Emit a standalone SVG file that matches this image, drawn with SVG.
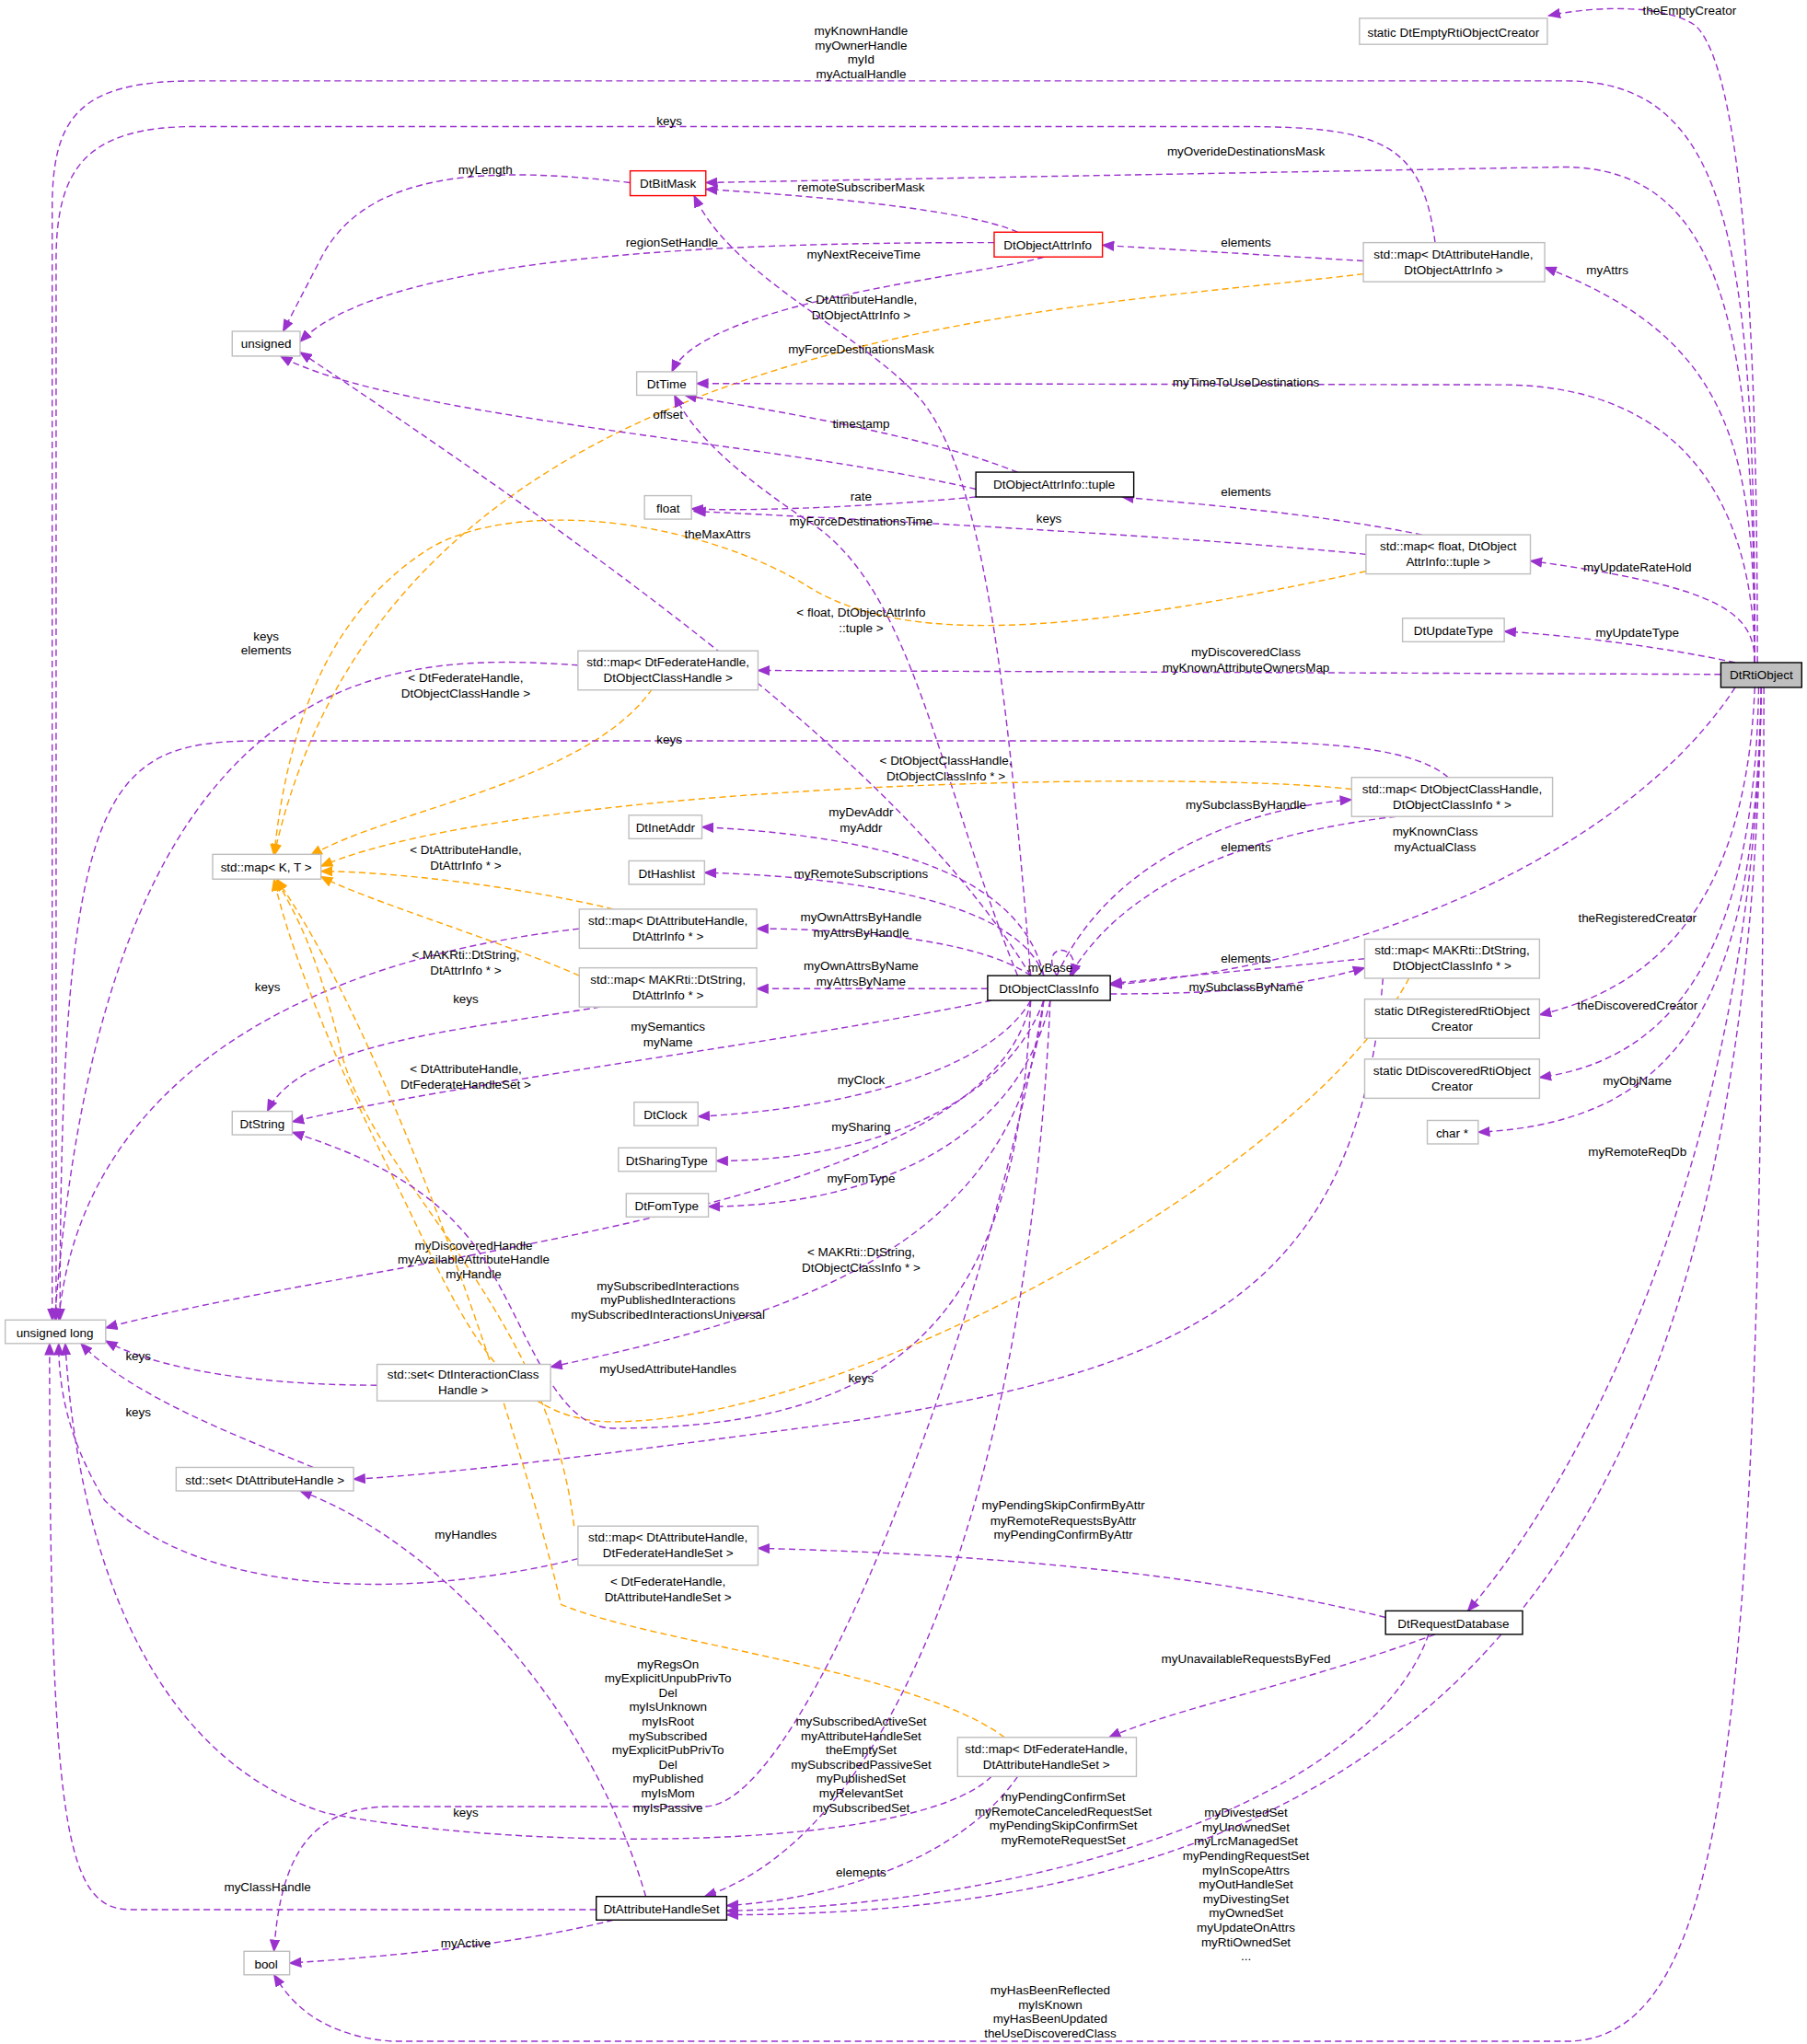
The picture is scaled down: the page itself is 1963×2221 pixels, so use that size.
<svg xmlns="http://www.w3.org/2000/svg" width="1963" height="2221" viewBox="0 0 1963 2221">
<style>
text{font-family:"Liberation Sans",Arial,sans-serif;font-size:9.5px;fill:#000}
.n text{text-anchor:middle}
.n rect{fill:#fff;stroke:#bfbfbf;stroke-width:1}
.n.b rect{stroke:#000}
.n.r rect{stroke:#ff0000}
.n.g rect{fill:#bfbfbf;stroke:#000}
.e path{fill:none;stroke:#9a32cd;stroke-width:1;stroke-dasharray:5,3;marker-end:url(#ap)}
.e path.o{stroke:#ffa500;marker-end:url(#ao)}
.e text{text-anchor:middle}
</style>
<defs>
<marker id="ap" markerWidth="10" markerHeight="8" refX="9" refY="4" orient="auto" markerUnits="userSpaceOnUse"><path d="M0,0 L10,4 L0,8 z" fill="#9a32cd"/></marker>
<marker id="ao" markerWidth="10" markerHeight="8" refX="9" refY="4" orient="auto" markerUnits="userSpaceOnUse"><path d="M0,0 L10,4 L0,8 z" fill="#ffa500"/></marker>
</defs>
<rect width="1963" height="2221" fill="#fff"/>
<g transform="scale(1.4173)">
<g id="edges" class="e">
<path d="M1347,508 C1347,300 1340,60 1300,20 C1280,5 1230,3 1187,12"/><text x="1295" y="11">theEmptyCreator</text>
<path d="M1345,508 C1345,200 1330,62 1200,62 L150,62 C60,62 40,90 40,160 L40,1012"/><text x="660" y="27">myKnownHandle</text><text x="660" y="38">myOwnerHandle</text><text x="660" y="49">myId</text><text x="660" y="60">myActualHandle</text>
<path d="M1100,186 C1090,110 1060,97 950,97 L150,97 C65,97 43,130 43,200 L43,1012"/><text x="513" y="96">keys</text>
<path d="M1345,508 C1345,250 1320,130 1200,128 L541,140"/><text x="955" y="119">myOverideDestinationsMask</text>
<path d="M483,140 C380,128 280,128 245,200 L217,254"/><text x="372" y="133">myLength</text>
<path d="M780,178 C740,160 620,150 541,145"/><text x="660" y="147">remoteSubscriberMask</text>
<path d="M762,186 C600,186 300,190 230,262"/><text x="515" y="189">regionSetHandle</text>
<path d="M800,197 C760,210 540,230 515,285"/><text x="662" y="198">myNextReceiveTime</text>
<path d="M1045,200 L845,188"/><text x="955" y="189">elements</text>
<path d="M1345,508 C1345,350 1330,260 1184,205"/><text x="1232" y="210">myAttrs</text>
<path class="o" d="M1045,210 C800,240 300,250 210,656"/><text x="660" y="233">&lt; DtAttributeHandle,</text><text x="660" y="245">DtObjectAttrInfo &gt;</text>
<path d="M790,748 C770,500 750,350 700,300 C650,250 560,210 532,150"/><text x="660" y="271">myForceDestinationsMask</text>
<path d="M1345,508 C1345,400 1300,295 1150,295 L534,294"/><text x="955" y="296">myTimeToUseDestinations</text>
<path d="M748,375 C600,340 300,320 215,273"/><text x="512" y="321">offset</text>
<path d="M780,362 C700,330 560,310 525,303"/><text x="660" y="328">timestamp</text>
<path d="M748,381 C650,390 560,392 530,390"/><text x="660" y="384">rate</text>
<path d="M1090,410 C1000,392 900,385 860,381"/><text x="955" y="380">elements</text>
<path d="M1047,425 C900,410 600,395 532,392"/><text x="804" y="401">keys</text>
<path d="M1345,508 C1345,470 1320,450 1173,430"/><text x="1255" y="438">myUpdateRateHold</text>
<path class="o" d="M1047,438 C850,480 700,500 620,450 C540,400 400,380 330,420 C250,470 220,560 210,656"/><text x="660" y="473">&lt; float, DtObjectAttrInfo</text><text x="660" y="485">::tuple &gt;</text>
<path d="M780,748 C720,600 700,450 620,400 C560,360 530,330 517,303"/><text x="660" y="403">myForceDestinationsTime</text>
<path d="M790,748 C700,600 500,450 230,270"/><text x="550" y="413">theMaxAttrs</text>
<path d="M1330,508 C1270,495 1200,487 1153,484"/><text x="1255" y="488">myUpdateType</text>
<path d="M1319,517 L581,514"/><text x="955" y="503">myDiscoveredClass</text><text x="955" y="515">myKnownAttributeOwnersMap</text>
<path d="M443,510 C300,500 80,500 42,1012"/><text x="204" y="491">keys</text><text x="204" y="502">elements</text>
<path class="o" d="M500,528 C450,600 300,620 238,656"/><text x="357" y="523">&lt; DtFederateHandle,</text><text x="357" y="535">DtObjectClassHandle &gt;</text>
<path d="M1110,596 C1080,570 1000,568 900,568 L200,568 C80,568 46,600 46,1012"/><text x="513" y="570">keys</text>
<path class="o" d="M1036,605 C900,590 400,600 246,664"/><text x="725" y="586">&lt; DtObjectClassHandle,</text><text x="725" y="598">DtObjectClassInfo * &gt;</text>
<path d="M810,748 C850,660 950,620 1036,613"/><text x="955" y="620">mySubclassByHandle</text>
<path d="M1070,626 C950,640 860,680 820,748"/><text x="955" y="653">elements</text>
<path d="M1330,527 C1250,650 1050,740 851,755"/><text x="1100" y="641">myKnownClass</text><text x="1100" y="653">myActualClass</text>
<path d="M800,748 C780,660 650,640 538,634"/><text x="660" y="626">myDevAddr</text><text x="660" y="638">myAddr</text>
<path d="M800,748 C780,690 650,672 540,669"/><text x="660" y="673">myRemoteSubscriptions</text>
<path d="M790,748 C750,720 650,712 580,712"/><text x="660" y="706">myOwnAttrsByHandle</text><text x="660" y="718">myAttrsByHandle</text>
<path class="o" d="M470,697 C400,680 300,668 246,668"/><text x="357" y="655">&lt; DtAttributeHandle,</text><text x="357" y="667">DtAttrInfo * &gt;</text>
<path d="M444,712 C200,740 60,850 45,1012"/><text x="205" y="760">keys</text>
<path d="M757,758 L580,758"/><text x="660" y="744">myOwnAttrsByName</text><text x="660" y="756">myAttrsByName</text>
<path class="o" d="M444,748 C380,720 280,690 246,672"/><text x="357" y="735">&lt; MAKRti::DtString,</text><text x="357" y="747">DtAttrInfo * &gt;</text>
<path d="M460,772 C350,790 230,800 205,852"/><text x="357" y="769">keys</text>
<path d="M760,767 C600,800 350,830 224,860"/><text x="512" y="790">mySemantics</text><text x="512" y="802">myName</text>
<path d="M851,762 C950,762 1000,755 1046,742"/><text x="955" y="760">mySubclassByName</text>
<path d="M1046,735 L851,754"/><text x="955" y="738">elements</text>
<path d="M810,748 C795,722 830,722 822,748"/><text x="805" y="745">myBase</text>
<path d="M1345,527 C1340,650 1300,750 1180,778"/><text x="1255" y="707">theRegisteredCreator</text>
<path d="M1348,527 C1345,700 1300,810 1180,826"/><text x="1255" y="774">theDiscoveredCreator</text>
<path d="M1350,527 C1345,750 1300,860 1133,868"/><text x="1255" y="832">myObjName</text>
<path d="M790,767 C760,820 650,850 535,856"/><text x="660" y="831">myClock</text>
<path d="M800,767 C770,850 660,890 549,890"/><text x="660" y="867">mySharing</text>
<path d="M805,767 C780,880 660,925 543,925"/><text x="660" y="907">myFomType</text>
<path class="o" d="M440,1170 C420,1000 280,900 260,800 C240,720 225,700 212,674"/><text x="357" y="823">&lt; DtAttributeHandle,</text><text x="357" y="835">DtFederateHandleSet &gt;</text>
<path d="M790,767 C760,930 300,960 81,1018"/><text x="363" y="958">myDiscoveredHandle</text><text x="363" y="969">myAvailableAttributeHandle</text><text x="363" y="980">myHandle</text>
<path d="M800,767 C780,960 600,1010 422,1048"/><text x="512" y="989">mySubscribedInteractions</text><text x="512" y="1000">myPublishedInteractions</text><text x="512" y="1011">mySubscribedInteractionsUniversal</text>
<path class="o" d="M1080,750 C1000,900 650,1090 470,1090 C380,1090 350,1000 300,900 C250,800 220,720 210,674"/><text x="660" y="963">&lt; MAKRti::DtString,</text><text x="660" y="975">DtObjectClassInfo * &gt;</text>
<path d="M790,767 C780,1000 700,1095 470,1095 C420,1095 400,1000 360,950 C320,900 260,880 224,868"/><text x="512" y="1053">myUsedAttributeHandles</text>
<path d="M289,1062 C200,1062 120,1050 81,1028"/><text x="106" y="1043">keys</text>
<path d="M1060,750 C1040,1000 900,1050 650,1090 C500,1110 350,1130 271,1134"/><text x="660" y="1060">keys</text>
<path d="M240,1125 C180,1100 100,1070 62,1030"/><text x="106" y="1086">keys</text>
<path d="M443,1195 C300,1230 150,1220 80,1150 C50,1100 45,1060 45,1030"/><text x="205" y="1133">keys</text>
<path d="M1062,1240 C900,1200 700,1190 581,1187"/><text x="815" y="1157">myPendingSkipConfirmByAttr</text><text x="815" y="1169">myRemoteRequestsByAttr</text><text x="815" y="1180">myPendingConfirmByAttr</text>
<path d="M1350,527 C1345,900 1200,1150 1125,1235"/><text x="1255" y="886">myRemoteReqDb</text>
<path d="M1100,1253 C1000,1290 900,1310 850,1332"/><text x="955" y="1275">myUnavailableRequestsByFed</text>
<path class="o" d="M770,1332 C700,1280 500,1260 430,1230 C400,1100 300,800 212,674"/><text x="512" y="1216">&lt; DtFederateHandle,</text><text x="512" y="1228">DtAttributeHandleSet &gt;</text>
<path d="M495,1454 C450,1300 330,1180 230,1143"/><text x="357" y="1180">myHandles</text>
<path d="M800,767 C760,1000 620,1385 540,1385 L300,1385 C240,1385 215,1420 210,1496"/><text x="512" y="1279">myRegsOn</text><text x="512" y="1290">myExplicitUnpubPrivTo</text><text x="512" y="1301">Del</text><text x="512" y="1312">myIsUnknown</text><text x="512" y="1323">myIsRoot</text><text x="512" y="1334">mySubscribed</text><text x="512" y="1345">myExplicitPubPrivTo</text><text x="512" y="1356">Del</text><text x="512" y="1367">myPublished</text><text x="512" y="1378">myIsMom</text><text x="512" y="1389">myIsPassive</text>
<path d="M760,1362 C700,1420 400,1420 250,1390 C120,1350 60,1200 50,1030"/><text x="357" y="1393">keys</text>
<path d="M805,767 C790,1100 700,1400 540,1454"/><text x="660" y="1323">mySubscribedActiveSet</text><text x="660" y="1334">myAttributeHandleSet</text><text x="660" y="1345">theEmptySet</text><text x="660" y="1356">mySubscribedPassiveSet</text><text x="660" y="1367">myPublishedSet</text><text x="660" y="1378">myRelevantSet</text><text x="660" y="1389">mySubscribedSet</text>
<path d="M780,1362 C740,1420 650,1455 557,1461"/><text x="660" y="1439">elements</text>
<path d="M1095,1253 C1050,1380 800,1460 557,1465"/><text x="815" y="1381">myPendingConfirmSet</text><text x="815" y="1392">myRemoteCanceledRequestSet</text><text x="815" y="1403">myPendingSkipConfirmSet</text><text x="815" y="1414">myRemoteRequestSet</text>
<path d="M1350,527 C1340,1200 1100,1468 557,1468"/><text x="955" y="1393">myDivestedSet</text><text x="955" y="1404">myUnownedSet</text><text x="955" y="1415">myLrcManagedSet</text><text x="955" y="1426">myPendingRequestSet</text><text x="955" y="1437">myInScopeAttrs</text><text x="955" y="1448">myOutHandleSet</text><text x="955" y="1459">myDivestingSet</text><text x="955" y="1470">myOwnedSet</text><text x="955" y="1481">myUpdateOnAttrs</text><text x="955" y="1492">myRtiOwnedSet</text><text x="955" y="1503">...</text>
<path d="M457,1464 L100,1464 C50,1464 38,1400 38,1030"/><text x="205" y="1450">myClassHandle</text>
<path d="M470,1472 C400,1490 300,1500 222,1505"/><text x="357" y="1493">myActive</text>
<path d="M1352,527 C1350,1300 1330,1565 1200,1565 L300,1565 C240,1560 220,1530 210,1514"/><text x="805" y="1529">myHasBeenReflected</text><text x="805" y="1540">myIsKnown</text><text x="805" y="1551">myHasBeenUpdated</text><text x="805" y="1562">theUseDiscoveredClass</text>
</g>
<g id="DtRtiObject" class="n g"><rect x="1319" y="508" width="62" height="19"/><text x="1350" y="521">DtRtiObject</text></g>
<g id="EmptyCreator" class="n"><rect x="1042" y="14" width="144" height="20"/><text x="1114" y="28">static DtEmptyRtiObjectCreator</text></g>
<g id="DtBitMask" class="n r"><rect x="483" y="131" width="58" height="19"/><text x="512" y="144">DtBitMask</text></g>
<g id="DtObjectAttrInfo" class="n r"><rect x="762" y="178" width="83" height="19"/><text x="803" y="191">DtObjectAttrInfo</text></g>
<g id="mapAttrObjInfo" class="n"><rect x="1045" y="186" width="139" height="30"/><text x="1114" y="198">std::map&lt; DtAttributeHandle,</text><text x="1114" y="210">DtObjectAttrInfo &gt;</text></g>
<g id="unsigned" class="n"><rect x="178" y="254" width="52" height="19"/><text x="204" y="267">unsigned</text></g>
<g id="DtTime" class="n"><rect x="488" y="285" width="46" height="18"/><text x="511" y="298">DtTime</text></g>
<g id="tuple" class="n b"><rect x="748" y="362" width="121" height="19"/><text x="808" y="375">DtObjectAttrInfo::tuple</text></g>
<g id="float" class="n"><rect x="494" y="380" width="36" height="18"/><text x="512" y="393">float</text></g>
<g id="mapFloat" class="n"><rect x="1047" y="410" width="126" height="30"/><text x="1110" y="422">std::map&lt; float, DtObject</text><text x="1110" y="434">AttrInfo::tuple &gt;</text></g>
<g id="DtUpdateType" class="n"><rect x="1075" y="474" width="78" height="18"/><text x="1114" y="487">DtUpdateType</text></g>
<g id="mapFedClass" class="n"><rect x="443" y="499" width="138" height="30"/><text x="512" y="511">std::map&lt; DtFederateHandle,</text><text x="512" y="523">DtObjectClassHandle &gt;</text></g>
<g id="mapClassInfo" class="n"><rect x="1036" y="596" width="154" height="30"/><text x="1113" y="608">std::map&lt; DtObjectClassHandle,</text><text x="1113" y="620">DtObjectClassInfo * &gt;</text></g>
<g id="mapKT" class="n"><rect x="163" y="655" width="83" height="19"/><text x="204" y="668">std::map&lt; K, T &gt;</text></g>
<g id="DtInetAddr" class="n"><rect x="482" y="625" width="56" height="18"/><text x="510" y="638">DtInetAddr</text></g>
<g id="DtHashlist" class="n"><rect x="482" y="660" width="58" height="18"/><text x="511" y="673">DtHashlist</text></g>
<g id="mapAttrInfo" class="n"><rect x="444" y="697" width="136" height="30"/><text x="512" y="709">std::map&lt; DtAttributeHandle,</text><text x="512" y="721">DtAttrInfo * &gt;</text></g>
<g id="DtObjectClassInfo" class="n b"><rect x="757" y="748" width="94" height="19"/><text x="804" y="761">DtObjectClassInfo</text></g>
<g id="mapStrClass" class="n"><rect x="1046" y="720" width="134" height="30"/><text x="1113" y="732">std::map&lt; MAKRti::DtString,</text><text x="1113" y="744">DtObjectClassInfo * &gt;</text></g>
<g id="mapStrAttr" class="n"><rect x="444" y="742" width="136" height="30"/><text x="512" y="754">std::map&lt; MAKRti::DtString,</text><text x="512" y="766">DtAttrInfo * &gt;</text></g>
<g id="RegCreator" class="n"><rect x="1046" y="766" width="134" height="30"/><text x="1113" y="778">static DtRegisteredRtiObject</text><text x="1113" y="790">Creator</text></g>
<g id="DiscCreator" class="n"><rect x="1046" y="812" width="134" height="30"/><text x="1113" y="824">static DtDiscoveredRtiObject</text><text x="1113" y="836">Creator</text></g>
<g id="DtString" class="n"><rect x="178" y="852" width="46" height="18"/><text x="201" y="865">DtString</text></g>
<g id="DtClock" class="n"><rect x="486" y="845" width="49" height="18"/><text x="510" y="858">DtClock</text></g>
<g id="charp" class="n"><rect x="1094" y="859" width="39" height="18"/><text x="1113" y="872">char *</text></g>
<g id="DtSharingType" class="n"><rect x="474" y="880" width="75" height="18"/><text x="511" y="893">DtSharingType</text></g>
<g id="DtFomType" class="n"><rect x="480" y="915" width="63" height="18"/><text x="511" y="928">DtFomType</text></g>
<g id="unsignedLong" class="n"><rect x="4" y="1012" width="77" height="18"/><text x="42" y="1025">unsigned long</text></g>
<g id="setInter" class="n"><rect x="289" y="1046" width="133" height="28"/><text x="355" y="1057">std::set&lt; DtInteractionClass</text><text x="355" y="1069">Handle &gt;</text></g>
<g id="setAttr" class="n"><rect x="135" y="1125" width="136" height="18"/><text x="203" y="1138">std::set&lt; DtAttributeHandle &gt;</text></g>
<g id="mapAttrFedSet" class="n"><rect x="443" y="1170" width="138" height="30"/><text x="512" y="1182">std::map&lt; DtAttributeHandle,</text><text x="512" y="1194">DtFederateHandleSet &gt;</text></g>
<g id="DtRequestDatabase" class="n b"><rect x="1062" y="1235" width="105" height="18"/><text x="1114" y="1248">DtRequestDatabase</text></g>
<g id="mapFedAttrSet" class="n"><rect x="734" y="1332" width="137" height="30"/><text x="802" y="1344">std::map&lt; DtFederateHandle,</text><text x="802" y="1356">DtAttributeHandleSet &gt;</text></g>
<g id="DtAttributeHandleSet" class="n b"><rect x="457" y="1454" width="100" height="18"/><text x="507" y="1467">DtAttributeHandleSet</text></g>
<g id="bool" class="n"><rect x="187" y="1496" width="35" height="18"/><text x="204" y="1509">bool</text></g>
</g>
</svg>
